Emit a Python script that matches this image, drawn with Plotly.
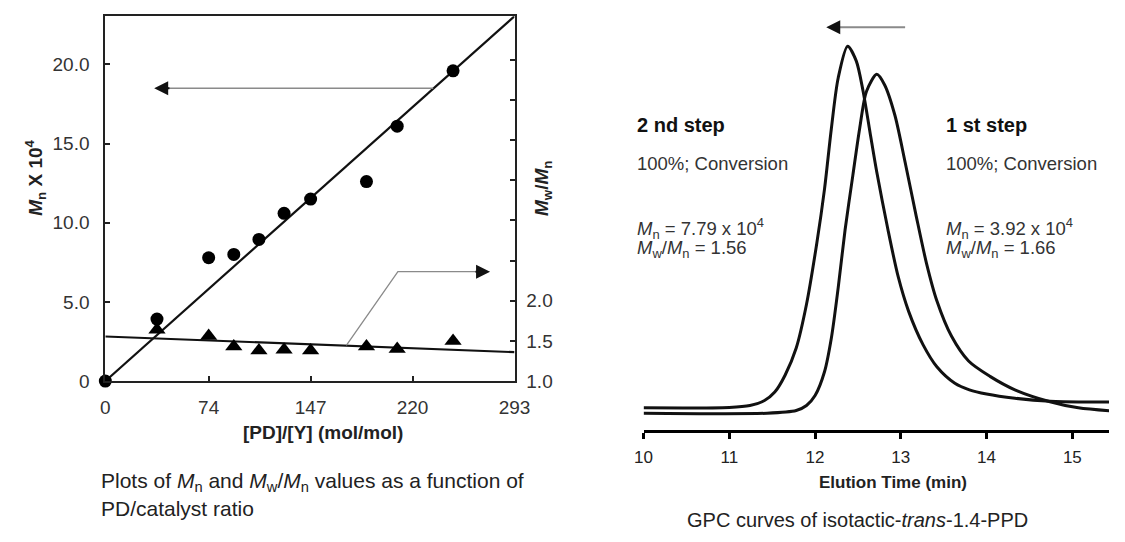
import plotly.graph_objects as go

# ---------------- data: left panel ----------------
ratio_mn = [0, 37, 74, 92, 110, 128, 147, 187, 209, 249]
mn_values = [0.0, 3.92, 7.79, 8.0, 8.95, 10.6, 11.5, 12.6, 16.1, 19.6]
ratio_pdi = [37, 74, 92, 110, 128, 147, 187, 209, 249]
pdi_values = [1.64, 1.56, 1.43, 1.38, 1.39, 1.38, 1.43, 1.40, 1.50]
fit_x = [0, 293]
mn_fit = [0.0, 23.05]
pdi_fit = [1.555, 1.36]
x_ticks = [0, 74, 147, 220, 293]
mn_ticks = [0, 5, 10, 15, 20]
mn_ticktext = ["0", "5.0", "10.0", "15.0", "20.0"]
pdi_ticks = [1.0, 1.5, 2.0, 2.5, 3.0, 3.5, 4.0, 4.5, 5.0]
pdi_ticktext = ["1.0", "1.5", "2.0", "", "", "", "", "", ""]

# ---------------- data: right panel (GPC) ----------------
step2_time = [10.0, 11.0, 11.24, 11.41, 11.53, 11.65, 11.78, 11.90, 12.02, 12.11,
              12.19, 12.27, 12.38, 12.48, 12.56, 12.64, 12.72, 12.85, 12.97, 13.09,
              13.26, 13.42, 13.63, 13.80, 14.0, 14.33, 14.74, 15.15, 15.45]
step2_signal = [0.058, 0.059, 0.064, 0.077, 0.099, 0.143, 0.214, 0.328, 0.487, 0.628,
                0.786, 0.918, 1.0, 0.962, 0.883, 0.777, 0.672, 0.522, 0.399, 0.310,
                0.222, 0.165, 0.122, 0.105, 0.094, 0.083, 0.075, 0.073, 0.073]
step1_time = [10.0, 11.44, 11.78, 11.90, 12.0, 12.11, 12.19, 12.27, 12.35, 12.44,
              12.52, 12.60, 12.72, 12.81, 12.93, 13.05, 13.18, 13.30, 13.42, 13.59,
              13.79, 14.04, 14.33, 14.74, 15.07, 15.45]
step1_signal = [0.044, 0.044, 0.051, 0.064, 0.090, 0.152, 0.240, 0.372, 0.522, 0.663,
                0.786, 0.883, 0.927, 0.900, 0.821, 0.698, 0.557, 0.434, 0.337, 0.245,
                0.180, 0.140, 0.105, 0.074, 0.058, 0.050]
gpc_ticks = [10, 11, 12, 13, 14, 15]

W, H = 1125, 542
FONT = "Liberation Sans, Arial, sans-serif"


def px(x):
    return x / W


def py(y):
    return 1 - y / H


fig = go.Figure()

fig.add_trace(go.Scatter(x=fit_x, y=mn_fit, mode="lines", xaxis="x", yaxis="y",
                         line=dict(color="#111", width=2.2), showlegend=False))
fig.add_trace(go.Scatter(x=fit_x, y=pdi_fit, mode="lines", xaxis="x", yaxis="y2",
                         line=dict(color="#111", width=2.2), showlegend=False))
fig.add_trace(go.Scatter(x=ratio_mn, y=mn_values, mode="markers", xaxis="x", yaxis="y",
                         marker=dict(symbol="circle", size=13, color="#000"),
                         cliponaxis=False, showlegend=False))
fig.add_trace(go.Scatter(x=ratio_pdi, y=pdi_values, mode="markers", xaxis="x", yaxis="y2",
                         marker=dict(symbol="triangle-up", size=15, color="#000"),
                         cliponaxis=False, showlegend=False))

fig.add_trace(go.Scatter(x=step2_time, y=step2_signal, mode="lines", xaxis="x2", yaxis="y3",
                         line=dict(color="#111", width=3, shape="spline", smoothing=0.8),
                         showlegend=False))
fig.add_trace(go.Scatter(x=step1_time, y=step1_signal, mode="lines", xaxis="x2", yaxis="y3",
                         line=dict(color="#111", width=3, shape="spline", smoothing=0.8),
                         showlegend=False))

axis_line = dict(showline=True, linecolor="#222", linewidth=2, showgrid=False,
                 zeroline=False, ticks="inside", ticklen=5, tickwidth=1.5, tickcolor="#222",
                 tickfont=dict(family=FONT, size=19, color="#333"))

fig.update_layout(
    width=W, height=H,
    margin=dict(l=0, r=0, t=0, b=0),
    paper_bgcolor="white", plot_bgcolor="white",
    font=dict(family=FONT, color="#222"),
    xaxis=dict(domain=[px(98.5), px(517)], range=[0, 293], tickvals=x_ticks,
               mirror=True, anchor="y", ticklabelstandoff=8, **axis_line),
    yaxis=dict(domain=[py(389), py(16.5)], range=[0, 23.05], tickvals=mn_ticks,
               ticktext=mn_ticktext, anchor="x", ticklabelstandoff=10, **axis_line),
    yaxis2=dict(domain=[py(389), py(16.5)], range=[1.0, 5.54], tickvals=pdi_ticks,
                ticktext=pdi_ticktext, overlaying="y", side="right", anchor="x",
                ticklabelstandoff=6, **axis_line),
    xaxis2=dict(domain=[px(649), 1.0], range=[10, 10 + (W - 649) / 87.7], anchor="y3",
                tickvals=gpc_ticks, showline=True, linecolor="#000", linewidth=3,
                ticks="outside", ticklen=6, tickwidth=3, tickcolor="#000",
                showgrid=False, zeroline=False, ticklabelstandoff=4,
                tickfont=dict(family=FONT, size=17, color="#222")),
    yaxis3=dict(domain=[py(439), py(8.1)], range=[0, 1.1], anchor="x2", visible=False),
)

# arrows (left panel)
fig.add_shape(type="line", xref="x", yref="y", x0=234.8, y0=18.5, x1=44, y1=18.5,
              line=dict(color="#8a8a8a", width=1.5))
fig.add_shape(type="path", xref="x", yref="y",
              path="M 172.6 2.25 L 209.5 6.91 L 266 6.91",
              line=dict(color="#8a8a8a", width=1.3))
# arrow (GPC)
fig.add_shape(type="line", xref="x2", yref="y3", x0=13.05, y0=1.05, x1=12.25, y1=1.05,
              line=dict(color="#8a8a8a", width=2))

anns = []
anns.append(dict(x=35, y=18.5, ax=47, ay=18.5, xref="x", yref="y", axref="x", ayref="y",
                 text="", showarrow=True, arrowhead=2, arrowsize=1.4, arrowwidth=2,
                 arrowcolor="#111"))
anns.append(dict(x=275.5, y=6.91, ax=264, ay=6.91, xref="x", yref="y", axref="x", ayref="y",
                 text="", showarrow=True, arrowhead=2, arrowsize=1.4, arrowwidth=2,
                 arrowcolor="#111"))
anns.append(dict(x=12.13, y=1.05, ax=12.27, ay=1.05, xref="x2", yref="y3", axref="x2",
                 ayref="y3", text="", showarrow=True, arrowhead=2, arrowsize=1.4,
                 arrowwidth=2, arrowcolor="#111"))


def txt(x, y, text, size, color="#222", xanchor="center", angle=0):
    anns.append(dict(x=px(x), y=py(y), xref="paper", yref="paper", text=text,
                     showarrow=False, xanchor=xanchor, yanchor="middle", textangle=angle,
                     font=dict(family=FONT, size=size, color=color)))


txt(27, 181, "<b><i>M</i><sub>n</sub> X 10<sup>4</sup></b>", 19, angle=-90)
txt(546, 192, "<b><i>M</i><sub>w</sub>/<i>M</i><sub>n</sub></b>", 19, angle=-90)
txt(321, 441, "<b>[PD]/[Y] (mol/mol)</b>", 19)
txt(92, 492, "Plots of <i>M</i><sub>n</sub> and <i>M</i><sub>w</sub>/<i>M</i><sub>n</sub> values as a function of",
    21, xanchor="left")
txt(92, 519, "PD/catalyst ratio", 21, xanchor="left")

txt(904, 493, "<b>Elution Time (min)</b>", 17)
txt(868, 531, "GPC curves of isotactic-<i>trans</i>-1.4-PPD", 20)

for x0, head, pdi_txt, mn_txt in [(640, "2 nd step", "1.56", "7.79"),
                                  (956, "1 st step", "1.66", "3.92")]:
    txt(x0, 128, "<b>" + head + "</b>", 20, color="#111", xanchor="left")
    txt(x0, 167, "100%; Conversion", 18.5, color="#333", xanchor="left")
    txt(x0, 233, "<i>M</i><sub>n</sub> = " + mn_txt + " x 10<sup>4</sup>", 18.5,
        color="#333", xanchor="left")
    txt(x0, 254, "<i>M</i><sub>w</sub>/<i>M</i><sub>n</sub> = " + pdi_txt, 18.5,
        color="#333", xanchor="left")

fig.update_layout(annotations=anns)
fig.write_html("out.html")
